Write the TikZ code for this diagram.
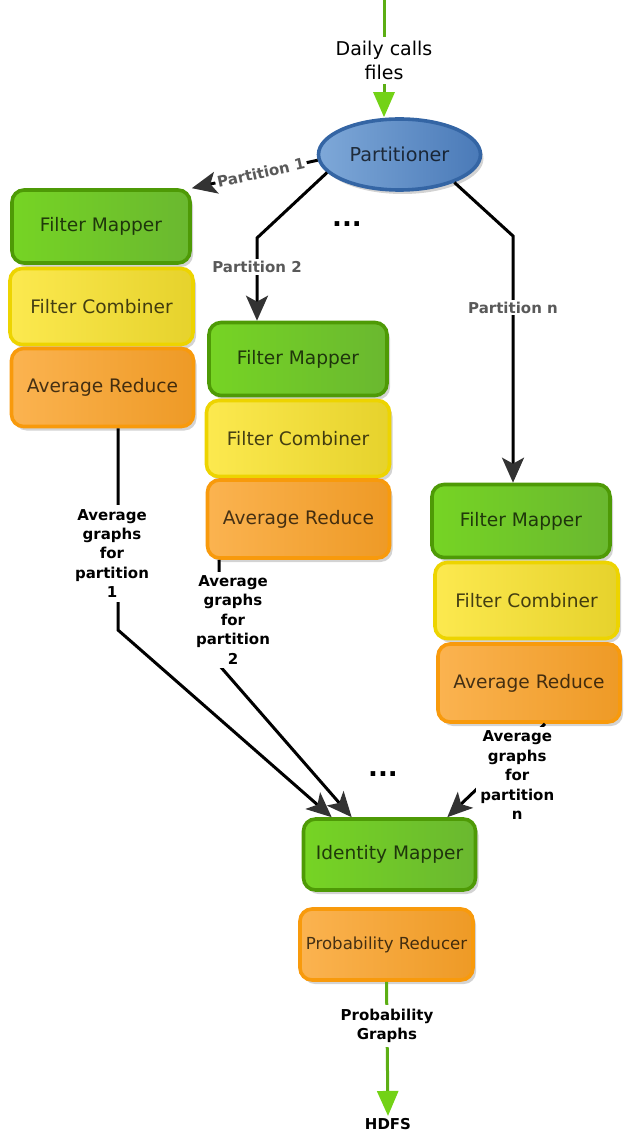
\documentclass[tikz,border=0pt]{standalone}
\usepackage{fontspec}
\setmainfont{DejaVu Sans}
\usepackage{tikz}
\usetikzlibrary{arrows.meta, shadows, shapes.geometric}

\definecolor{mapline}{HTML}{4E9A06}
\definecolor{mapleft}{HTML}{76D424}
\definecolor{mapright}{HTML}{6AB830}
\definecolor{combline}{HTML}{EDD400}
\definecolor{combleft}{HTML}{FCE94F}
\definecolor{combright}{HTML}{E6D22C}
\definecolor{redline}{HTML}{F89A0C}
\definecolor{redleft}{HTML}{FBB350}
\definecolor{redright}{HTML}{EE9A26}
\definecolor{partline}{HTML}{3465A4}
\definecolor{partleft}{HTML}{7EA8D8}
\definecolor{partright}{HTML}{4A7AB8}
\definecolor{feedgreen}{HTML}{5CAE14}
\definecolor{tipgreen}{HTML}{73D216}

\begin{document}
\begin{tikzpicture}[x=0.5pt, y=-0.5pt, >=Stealth,
    box/.style={rectangle, rounded corners=6pt, line width=1.8pt, inner sep=0pt,
        font=\fontsize{9.3}{11}\selectfont, text=black, text opacity=0.72,
        drop shadow={shadow xshift=1.5pt, shadow yshift=-2pt, opacity=0.35}},
    mapper/.style={box, draw=mapline, left color=mapleft, right color=mapright,
        minimum width=89pt, minimum height=36.5pt},
    combiner/.style={box, draw=combline, left color=combleft, right color=combright,
        minimum width=91.5pt, minimum height=38pt},
    reducer/.style={box, draw=redline, left color=redleft, right color=redright,
        minimum width=91pt, minimum height=39pt},
    flow/.style={line width=1.5pt, -{Stealth[length=12.5pt, width=11pt, inset=3pt, color=black!80]}},
    feed/.style={line width=1.5pt, draw=feedgreen, -{Triangle[length=12.5pt, width=10.5pt, color=tipgreen]}},
    lab/.style={font=\fontsize{7.5}{9.7}\selectfont\bfseries, align=center, fill=white, inner sep=2pt},
    plab/.style={lab, text=black!65, inner sep=1pt}]
    \useasboundingbox (0,0) rectangle (637,1133);

    % Partitioner
    \node[ellipse, draw=partline, line width=1.8pt, left color=partleft, right color=partright,
        minimum width=81pt, minimum height=35.5pt, inner sep=0pt,
        font=\fontsize{9.6}{11}\selectfont, text=black, text opacity=0.72,
        drop shadow={shadow xshift=1.5pt, shadow yshift=-2pt, opacity=0.35}] (part) at (399.5,154.5) {Partitioner};
    \coordinate (src) at (384,0);
    \draw[feed] (src) -- node[fill=white, align=center, inner sep=2pt, yshift=-1pt,
        font=\fontsize{9.5}{12}\selectfont] {Daily calls\\files} (part.north -| src);

    % Partition 1
    \node[mapper] (fm1) at (101,226.5) {Filter Mapper};
    \node[combiner] (fc1) at (101.5,306.5) {Filter Combiner};
    \node[reducer] (ar1) at (102.5,387.5) {Average Reduce};

    % Partition 2
    \node[mapper] (fm2) at (298,359) {Filter Mapper};
    \node[combiner] (fc2) at (298,438.5) {Filter Combiner};
    \node[reducer] (ar2) at (298.5,519) {Average Reduce};

    % Partition n
    \node[mapper] (fmn) at (521,521) {Filter Mapper};
    \node[combiner] (fcn) at (526.5,600.5) {Filter Combiner};
    \node[reducer] (arn) at (529,683) {Average Reduce};

    \node[font=\fontsize{13}{13}\selectfont\bfseries] (dots1) at (347,224) {...};

    % Partitioner -> mappers
    \coordinate (p2bend) at (257,238);
    \coordinate (pnbend) at (513,236);
    \draw[flow] (part.184) -- node[plab, sloped, pos=0.45] {Partition 1} (fm1.north east);
    \draw[flow] (part.194) -- (p2bend) -- node[plab, pos=0.35] {Partition 2} (p2bend |- fm2.north);
    \draw[flow] (part.-27) -- (pnbend) -- node[plab, pos=0.29] {Partition n} (pnbend |- fmn.north);

    % Merge
    \node[mapper, minimum width=86pt, minimum height=35.5pt] (im) at (389.5,854.5) {Identity Mapper};
    \node[reducer, minimum width=86.5pt, minimum height=35.5pt,
        font=\fontsize{8.3}{10}\selectfont] (pr) at (386.5,944.5) {Probability Reducer};
    \node[font=\fontsize{13}{13}\selectfont\bfseries] (dots2) at (383,774) {...};

    \coordinate (a1bend) at (118,630);
    \coordinate (a2bend) at (219,665);
    \draw[flow] (a1bend |- ar1.south) -- node[lab, pos=0.62, xshift=-3pt]
        {Average\\graphs\\for\\partition\\1} (a1bend) -- ([xshift=15pt]im.north west);
    \draw[flow] (a2bend |- ar2.south) -- node[lab, pos=0.57, xshift=7pt]
        {Average\\graphs\\for\\partition\\2} (a2bend) -- ([xshift=25pt]im.north west);
    \draw[flow] ([xshift=8pt]arn.south) -- node[lab, pos=0.55, xshift=13pt]
        {Average\\graphs\\for\\partition\\n} ([xshift=-15pt]im.north east);

    % Output
    \node[lab, fill=none, inner sep=1pt] (hdfs) at (388,1124) {HDFS};
    \draw[feed] (pr.south) -- node[lab, pos=0.33] {Probability\\Graphs} (hdfs.north);
\end{tikzpicture}
\end{document}
